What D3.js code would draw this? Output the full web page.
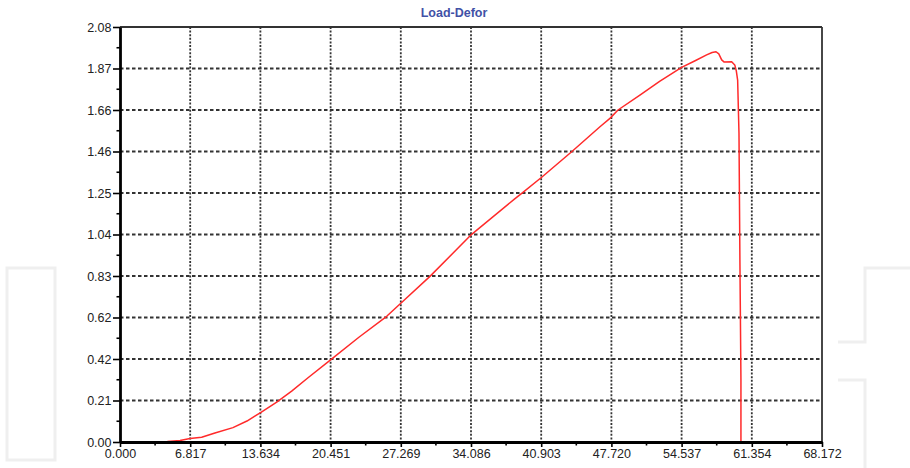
<!DOCTYPE html>
<html>
<head>
<meta charset="utf-8">
<script src="https://cdn.jsdelivr.net/npm/d3@7"></script>
<style>
  html, body { margin: 0; padding: 0; background: #fff; }
  svg { display: block; }
  text { font-family: "Liberation Sans", Arial, sans-serif; }
</style>
</head>
<body>
<svg id="chart" width="910" height="468"></svg>
<script>
// ---- data ----
const title = "Load-Defor";
const xTickValues = [0, 6.8172, 13.6344, 20.4516, 27.2688, 34.086, 40.9032, 47.7204, 54.5376, 61.3548, 68.172];
const xTickLabels = ["0.000", "6.817", "13.634", "20.451", "27.269", "34.086", "40.903", "47.720", "54.537", "61.354", "68.172"];
const yTickValues = [0, 0.208, 0.416, 0.624, 0.832, 1.04, 1.248, 1.456, 1.664, 1.872, 2.08];
const yTickLabels = ["0.00", "0.21", "0.42", "0.62", "0.83", "1.04", "1.25", "1.46", "1.66", "1.87", "2.08"];
const deformation = [3.6, 4.6, 5.83, 6.80, 7.93, 9.22, 10.97, 12.33, 13.69, 15.22, 16.67, 18.26, 20.54, 23.2, 25.90, 27.19, 30.10, 34.15, 38.36, 39.01, 40.95, 43.86, 46.61, 47.58, 48.36, 50.49, 52.4, 54.54, 55.85, 56.97, 57.50, 57.88, 58.15, 58.43, 58.65, 59.40, 59.70, 59.85, 59.98, 60.11, 60.20, 60.30, 60.30];
const load = [0.000, 0.002, 0.008, 0.017, 0.024, 0.045, 0.072, 0.105, 0.149, 0.200, 0.255, 0.322, 0.415, 0.525, 0.630, 0.692, 0.830, 1.041, 1.220, 1.246, 1.327, 1.455, 1.580, 1.622, 1.664, 1.739, 1.808, 1.878, 1.911, 1.940, 1.952, 1.956, 1.945, 1.915, 1.905, 1.906, 1.890, 1.860, 1.814, 1.549, 0.912, 0.311, 0.000];

// ---- layout ----
const svg = d3.select("#chart");
const L = 120, R = 822, T = 27, B = 442;
const x = d3.scaleLinear().domain([0, 68.172]).range([L, R]);
const y = d3.scaleLinear().domain([0, 2.08]).range([B, T]);

// faint watermark shapes
const wm = svg.append("g").attr("fill", "none").attr("stroke", "#efefef").attr("stroke-width", 3);
wm.append("path").attr("d", "M7,268 L55,268 L55,460 L7,460 Z");
wm.append("path").attr("d", "M910,268 L865,268 L865,342 L838,342");
wm.append("path").attr("d", "M838,380 L865,380 L865,468");

// title
svg.append("text").attr("x", 454).attr("y", 17).attr("text-anchor", "middle")
  .attr("font-size", 12.5).attr("font-weight", "bold").attr("fill", "#4151a6").text(title);

// gridlines
const grid = svg.append("g");
grid.selectAll("line.h").data(yTickValues.slice(1, -1)).join("line")
  .attr("x1", L).attr("x2", R).attr("y1", d => y(d)).attr("y2", d => y(d))
  .attr("stroke", "#333").attr("stroke-width", 1.8).attr("stroke-dasharray", "3.5,2.5");
grid.selectAll("line.v").data(xTickValues.slice(1, -1)).join("line")
  .attr("y1", T).attr("y2", B).attr("x1", d => x(d)).attr("x2", d => x(d))
  .attr("stroke", "#333").attr("stroke-width", 1.8).attr("stroke-dasharray", "2,1.6");

// border (top/right)
svg.append("line").attr("x1", L).attr("x2", R).attr("y1", T).attr("y2", T).attr("stroke", "#333").attr("stroke-width", 1.8);
svg.append("line").attr("x1", R).attr("x2", R).attr("y1", T).attr("y2", B).attr("stroke", "#333").attr("stroke-width", 1.8);

// curve
const line = d3.line().x((d, i) => x(deformation[i])).y(d => y(d));
svg.append("path").datum(load).attr("d", line).attr("fill", "none")
  .attr("stroke", "#ff2a2a").attr("stroke-width", 1.5).attr("stroke-linejoin", "round");

// minor ticks
const xMinor = d3.pairs(xTickValues).map(p => (p[0] + p[1]) / 2);
const yMinor = d3.pairs(yTickValues).map(p => (p[0] + p[1]) / 2);

// x axis
const xAxis = d3.axisBottom(x).tickValues(xTickValues).tickFormat((d, i) => xTickLabels[i]).tickSize(5).tickSizeOuter(0);
const gx = svg.append("g").attr("transform", `translate(0,${B})`).call(xAxis);
gx.select(".domain").attr("stroke", "#000").attr("stroke-width", 2.8);
gx.selectAll(".tick line").attr("stroke", "#000").attr("stroke-width", 1.6);
gx.selectAll(".tick text").attr("font-size", 12.5).attr("fill", "#222").attr("dy", "0.62em")
  .style("font-family", "'Liberation Sans', Arial, sans-serif");
svg.append("g").selectAll("line").data(xMinor).join("line")
  .attr("x1", d => x(d)).attr("x2", d => x(d)).attr("y1", B).attr("y2", B + 3.5)
  .attr("stroke", "#000").attr("stroke-width", 1.6);

// y axis
const yAxis = d3.axisLeft(y).tickValues(yTickValues).tickFormat((d, i) => yTickLabels[i]).tickSize(7).tickSizeOuter(0);
const gy = svg.append("g").attr("transform", `translate(${L},0)`).call(yAxis);
gy.select(".domain").attr("stroke", "#000").attr("stroke-width", 2.8);
gy.selectAll(".tick line").attr("stroke", "#000").attr("stroke-width", 1.6);
gy.selectAll(".tick text").attr("font-size", 12.5).attr("fill", "#222").attr("x", -8.5)
  .style("font-family", "'Liberation Sans', Arial, sans-serif");
svg.append("g").selectAll("line").data(yMinor).join("line")
  .attr("y1", d => y(d)).attr("y2", d => y(d)).attr("x1", L - 3.5).attr("x2", L)
  .attr("stroke", "#000").attr("stroke-width", 1.6);
</script>
</body>
</html>
